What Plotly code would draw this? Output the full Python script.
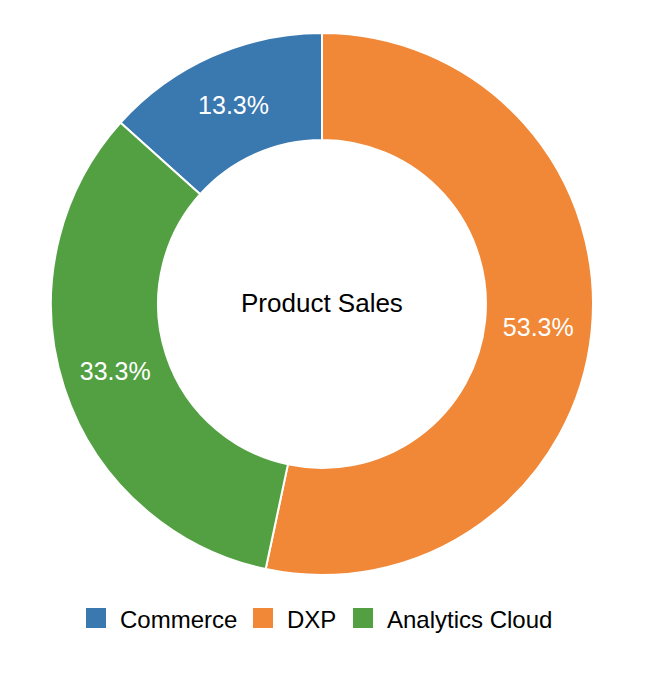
import plotly.graph_objects as go

labels = ["Commerce", "DXP", "Analytics Cloud"]
values = [2, 8, 5]
colors = ["#3a78b0", "#f08838", "#53a043"]
center_title = "Product Sales"

W, H = 646, 676
FONT = "Liberation Sans, Arial, Helvetica, sans-serif"

fig = go.Figure(go.Pie(
    labels=labels,
    values=values,
    hole=0.605,
    sort=False,
    direction="clockwise",
    rotation=-48,
    marker=dict(colors=colors, line=dict(color="white", width=2)),
    textinfo="percent",
    texttemplate="%{percent:.1%}",
    textposition="inside",
    insidetextorientation="horizontal",
    textfont=dict(color="white", size=25, family=FONT),
    domain=dict(x=[51 / W, 593 / W], y=[1 - 575 / H, 1 - 33 / H]),
    showlegend=False,
))

fig.add_annotation(
    text=center_title, x=322 / W, y=1 - 303 / H, xref="paper", yref="paper",
    showarrow=False, font=dict(size=26, color="black", family=FONT),
    xanchor="center", yanchor="middle",
)

# custom legend (larger square swatches, as in the reference)
legend_swatch_x = [86, 253, 353]   # pixel positions of legend items
legend_cy = 618
sw = 20
for lab, col, sx in zip(labels, colors, legend_swatch_x):
    fig.add_shape(
        type="rect", xref="paper", yref="paper",
        x0=sx / W, x1=(sx + sw) / W,
        y0=1 - (legend_cy + sw / 2) / H, y1=1 - (legend_cy - sw / 2) / H,
        fillcolor=col, line=dict(width=0),
    )
    fig.add_annotation(
        text=lab, x=(sx + sw + 12) / W, y=1 - (legend_cy + 1) / H,
        xref="paper", yref="paper", showarrow=False,
        xanchor="left", yanchor="middle",
        font=dict(size=24, color="black", family=FONT),
    )

fig.update_layout(
    width=W, height=H,
    margin=dict(l=0, r=0, t=0, b=0),
    paper_bgcolor="white",
    plot_bgcolor="white",
    showlegend=False,
)

fig.write_html("out.html")
